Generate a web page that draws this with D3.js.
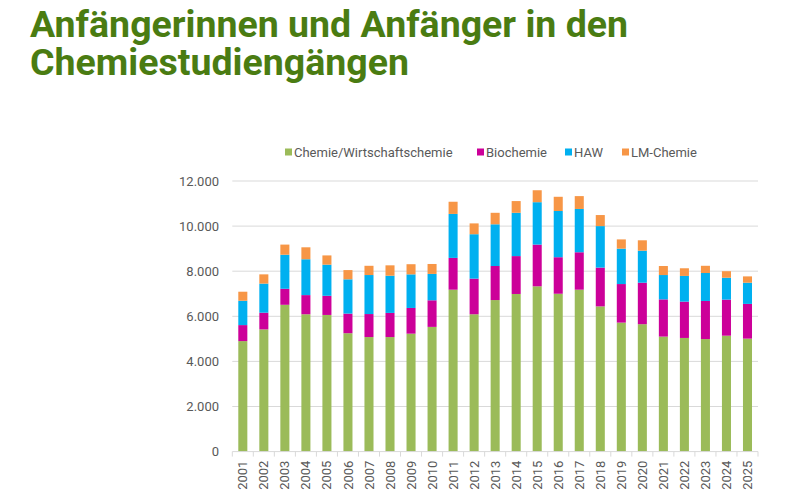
<!DOCTYPE html>
<html>
<head>
<meta charset="utf-8">
<script src="https://cdn.jsdelivr.net/npm/d3@7"></script>
<style>
  body { margin: 0; background: #fff; }
  svg { display: block; }
</style>
</head>
<body>
<div id="chart"></div>
<script>
const years = ["2001","2002","2003","2004","2005","2006","2007","2008","2009","2010","2011","2012","2013",
  "2014","2015","2016","2017","2018","2019","2020","2021","2022","2023","2024","2025"]
const seriesNames = ["Chemie/Wirtschaftschemie", "Biochemie", "HAW", "LM-Chemie"]
const chemie = [4900,5420,6510,6090,6060,5250,5080,5080,5230,5530,7180,6090,6720,6990,7330,7000,7180,6440,5720,5650,5100,5040,4990,5140,5010]
const biochemie = [710,740,710,850,850,870,1020,1070,1140,1180,1410,1580,1510,1680,1850,1620,1660,1720,1710,1840,1650,1610,1690,1600,1540]
const haw = [1080,1290,1510,1590,1380,1520,1730,1650,1490,1170,1950,1970,1850,1920,1880,2050,1920,1840,1570,1420,1080,1140,1240,970,940]
const lmChemie = [400,410,450,530,410,410,410,460,450,440,540,480,510,520,530,630,570,490,410,460,400,340,320,290,280]
const yTicks = [0,2000,4000,6000,8000,10000,12000]
const colors = ["#9bbb59", "#cc0099", "#00b0f0", "#f79646"]

const width = 800
const height = 500
const margin = {top: 181, right: 42, bottom: 48.4, left: 232.3}

const rows = years.map((y, i) => ({
  year: y,
  [seriesNames[0]]: chemie[i],
  [seriesNames[1]]: biochemie[i],
  [seriesNames[2]]: haw[i],
  [seriesNames[3]]: lmChemie[i]
}))
const stacked = d3.stack().keys(seriesNames)(rows)

const de = d3.formatLocale({decimal: ",", thousands: ".", grouping: [3], currency: ["", " €"]})
const fmt = de.format(",d")

const svg = d3.select("#chart")
  .append("svg")
  .attr("width", width)
  .attr("height", height)
  .attr("viewBox", [0, 0, width, height])
  .style("font-family", "Roboto, sans-serif")

const x = d3.scaleBand()
  .domain(years)
  .range([margin.left, width - margin.right])
  .paddingInner(0.57)
  .paddingOuter(0.285)

const y = d3.scaleLinear()
  .domain([0, 12000])
  .range([height - margin.bottom, margin.top])

// title
const title = svg.append("text")
  .attr("fill", "#4a7c12")
  .style("font-size", "37.5px")
  .style("font-weight", "bold")
title.append("tspan").attr("x", 30).attr("y", 37).text("Anfängerinnen und Anfänger in den")
title.append("tspan").attr("x", 30).attr("y", 75).text("Chemiestudiengängen")

// gridlines
svg.append("g")
  .selectAll("line")
  .data(yTicks.filter(d => d > 0))
  .join("line")
  .attr("x1", margin.left)
  .attr("x2", width - margin.right)
  .attr("y1", d => y(d))
  .attr("y2", d => y(d))
  .attr("stroke", "#d9d9d9")
  .attr("stroke-width", 1)

// y labels
svg.append("g")
  .selectAll("text")
  .data(yTicks)
  .join("text")
  .attr("x", 219)
  .attr("y", d => y(d))
  .attr("dy", "0.35em")
  .attr("text-anchor", "end")
  .attr("fill", "#595959")
  .style("font-size", "13px")
  .text(d => fmt(d))

// bars
svg.append("g")
  .selectAll("g")
  .data(stacked)
  .join("g")
  .attr("fill", (d, i) => colors[i])
  .selectAll("rect")
  .data(d => d)
  .join("rect")
  .attr("x", d => x(d.data.year))
  .attr("width", x.bandwidth())
  .attr("y", d => y(d[1]))
  .attr("height", d => y(d[0]) - y(d[1]))

// x axis line and ticks between categories
const xAxis = svg.append("g")
xAxis.append("line")
  .attr("x1", margin.left)
  .attr("x2", width - margin.right)
  .attr("y1", y(0))
  .attr("y2", y(0))
  .attr("stroke", "#d9d9d9")
const step = x.step()
const edges = d3.range(years.length + 1).map(i => margin.left + i * step)
xAxis.selectAll("line.tick")
  .data(edges)
  .join("line")
  .attr("class", "tick")
  .attr("x1", d => d)
  .attr("x2", d => d)
  .attr("y1", y(0))
  .attr("y2", y(0) + 5)
  .attr("stroke", "#d9d9d9")

xAxis.selectAll("text")
  .data(years)
  .join("text")
  .attr("transform", d => `translate(${x(d) + x.bandwidth() / 2},${y(0) + 9}) rotate(-90)`)
  .attr("text-anchor", "end")
  .attr("dy", "0.35em")
  .attr("fill", "#595959")
  .style("font-size", "13px")
  .text(d => d)

// legend
const legendX = [285, 477, 565, 622]
const legend = svg.append("g")
  .selectAll("g")
  .data(seriesNames)
  .join("g")
  .attr("transform", (d, i) => `translate(${legendX[i]},152)`)
legend.append("rect")
  .attr("x", 0)
  .attr("y", -3.5)
  .attr("width", 7)
  .attr("height", 7)
  .attr("fill", (d, i) => colors[i])
legend.append("text")
  .attr("x", 9)
  .attr("dy", "0.35em")
  .attr("fill", "#595959")
  .style("font-size", "13px")
  .text(d => d)
</script>
</body>
</html>
